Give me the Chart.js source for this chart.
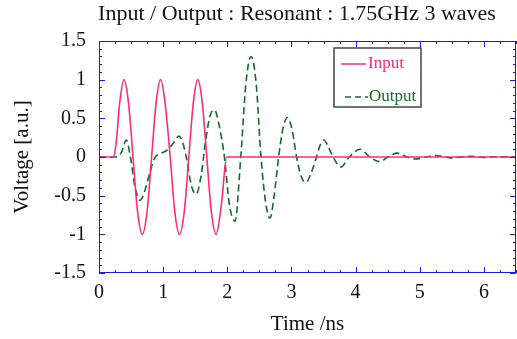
<!DOCTYPE html>
<html>
<head>
<meta charset="utf-8">
<script src="https://cdn.jsdelivr.net/npm/chart.js@4"></script>
<style>
  html, body { margin: 0; padding: 0; background: #ffffff; }
  #wrap { width: 517px; height: 339px; }
</style>
</head>
<body>
<div id="wrap"><canvas id="ioChart" width="517" height="339"></canvas></div>
<script>
// values (time in ns, voltage in a.u.)
const inTime = [0, 0.22, 0.27, 0.32, 0.39, 0.46, 0.53, 0.60, 0.675, 0.75, 0.82, 0.89, 0.96, 1.03, 1.11, 1.18, 1.255, 1.33, 1.40, 1.47, 1.54, 1.61, 1.68, 1.75, 1.825, 1.91, 1.99, 6.5];
const inVolt = [0, 0, 0.2, 0.68, 1, 0.7, 0, -0.7, -1, -0.7, 0, 0.7, 1, 0.7, 0, -0.7, -1, -0.7, 0, 0.7, 1, 0.7, 0, -0.7, -1, -0.6, 0, 0];

const outTime = [0, 0.25, 0.3, 0.36, 0.425, 0.49, 0.56, 0.64, 0.72, 0.80, 0.87, 0.95, 1.08, 1.17, 1.245, 1.30, 1.36, 1.44, 1.515, 1.59, 1.66, 1.73, 1.80, 1.87, 1.955, 2.03, 2.12, 2.21, 2.29, 2.37, 2.45, 2.525, 2.60, 2.665, 2.73, 2.80, 2.87, 2.94, 3.01, 3.08, 3.15, 3.225, 3.31, 3.39, 3.45, 3.505, 3.57, 3.65, 3.77, 3.9, 4.07, 4.22, 4.38, 4.5, 4.65, 4.8, 4.94, 5.1, 5.25, 5.4, 5.5, 5.65, 5.8, 6.0, 6.2, 6.5];
const outVolt = [0, 0, 0.01, 0.08, 0.22, 0, -0.38, -0.56, -0.42, -0.18, -0.01, 0.04, 0.10, 0.19, 0.27, 0.20, 0, -0.37, -0.48, -0.25, 0.2, 0.53, 0.61, 0.42, 0, -0.6, -0.83, 0, 0.95, 1.30, 0.95, 0, -0.6, -0.79, -0.5, 0, 0.38, 0.51, 0.35, 0, -0.25, -0.33, -0.2, 0, 0.16, 0.22, 0.14, 0, -0.13, 0, 0.10, 0, -0.06, 0, 0.05, 0, -0.025, 0, 0.02, 0, -0.012, 0, 0.008, -0.005, 0.004, 0];

const xTicks = [0, 1, 2, 3, 4, 5, 6];
const yTicks = [-1.5, -1, -0.5, 0, 0.5, 1, 1.5];

const titleText = "Input / Output : Resonant : 1.75GHz 3 waves";
const serif = '"Liberation Serif", "DejaVu Serif", serif';
const frameBlue = "#1a1ae6";
const inColor = "#ff2a78";
const outColor = "#136b25";

// frame, inward ticks, title and legend box
const framePlugin = {
  id: "frame",
  afterDraw(chart) {
    const ctx = chart.ctx;
    const a = chart.chartArea;
    const xs = chart.scales.x;
    const ys = chart.scales.y;
    ctx.save();
    ctx.strokeStyle = frameBlue;
    ctx.lineWidth = 1;
    ctx.strokeRect(a.left + 0.5, a.top + 0.5, a.right - a.left - 1, a.bottom - a.top - 1);

    ctx.beginPath();
    for (let i = 0; i <= 26; i++) {
      const v = i * 0.25;
      const px = Math.round(xs.getPixelForValue(v)) + 0.5;
      const len = i % 4 === 0 ? 6 : 3;
      ctx.moveTo(px, a.bottom); ctx.lineTo(px, a.bottom - len);
      ctx.moveTo(px, a.top); ctx.lineTo(px, a.top + len);
    }
    for (let i = 0; i <= 30; i++) {
      const v = -1.5 + i * 0.1;
      const py = Math.round(ys.getPixelForValue(v)) + 0.5;
      const len = i % 5 === 0 ? 6 : 3;
      ctx.moveTo(a.left, py); ctx.lineTo(a.left + len, py);
      ctx.moveTo(a.right, py); ctx.lineTo(a.right - len, py);
    }
    ctx.stroke();

    // title
    ctx.fillStyle = "#111111";
    ctx.font = "22px " + serif;
    ctx.textAlign = "center";
    ctx.textBaseline = "middle";
    ctx.fillText(titleText, 297, 14);

    // legend
    const lx = 334, ly = 48, lw = 87, lh = 59;
    ctx.fillStyle = "#ffffff";
    ctx.fillRect(lx, ly, lw, lh);
    ctx.strokeStyle = "#444444";
    ctx.lineWidth = 1.5;
    ctx.strokeRect(lx, ly, lw, lh);
    ctx.textAlign = "left";
    ctx.font = "17px " + serif;

    ctx.strokeStyle = inColor;
    ctx.lineWidth = 1.5;
    ctx.beginPath(); ctx.moveTo(341, 64); ctx.lineTo(366, 64); ctx.stroke();
    ctx.fillStyle = inColor;
    ctx.fillText("Input", 368, 64);

    ctx.strokeStyle = outColor;
    ctx.setLineDash([6, 4]);
    ctx.beginPath(); ctx.moveTo(345, 97); ctx.lineTo(368, 97); ctx.stroke();
    ctx.setLineDash([]);
    ctx.fillStyle = outColor;
    ctx.fillText("Output", 369, 97);
    ctx.restore();
  },
};

const ctx = document.getElementById("ioChart").getContext("2d");
new Chart(ctx, {
  type: "line",
  data: {
    datasets: [
      {
        label: "Input",
        data: inTime.map((t, i) => ({ x: t, y: inVolt[i] })),
        borderColor: inColor,
        borderWidth: 1.6,
        pointRadius: 0,
        cubicInterpolationMode: "monotone",
      },
      {
        label: "Output",
        data: outTime.map((t, i) => ({ x: t, y: outVolt[i] })),
        borderColor: outColor,
        borderWidth: 1.6,
        borderDash: [7, 4],
        pointRadius: 0,
        cubicInterpolationMode: "monotone",
      },
    ],
  },
  options: {
    responsive: false,
    animation: false,
    layout: { padding: { top: 41, right: 1, bottom: 0, left: 0 } },
    scales: {
      x: {
        type: "linear",
        min: 0,
        max: 6.5,
        afterBuildTicks: (s) => { s.ticks = xTicks.map((v) => ({ value: v })); },
        afterFit: (s) => { s.height = 66; },
        grid: { display: false },
        border: { display: false },
        ticks: { color: "#111111", font: { family: serif, size: 20 }, padding: 0, maxRotation: 0 },
        title: { display: true, text: "Time /ns", color: "#111111", font: { family: serif, size: 21 }, padding: { top: 4, bottom: 2 } },
      },
      y: {
        min: -1.5,
        max: 1.5,
        afterBuildTicks: (s) => { s.ticks = yTicks.map((v) => ({ value: v })); },
        afterFit: (s) => { s.width = 99; },
        grid: { display: false },
        border: { display: false },
        ticks: { color: "#111111", font: { family: serif, size: 20 }, padding: 5, callback: (v) => String(v) },
        title: { display: true, text: "Voltage [a.u.]", color: "#111111", font: { family: serif, size: 21 }, padding: { top: 10, bottom: 0 } },
      },
    },
    plugins: {
      legend: { display: false },
      tooltip: { enabled: false },
    },
  },
  plugins: [framePlugin],
});
</script>
</body>
</html>
